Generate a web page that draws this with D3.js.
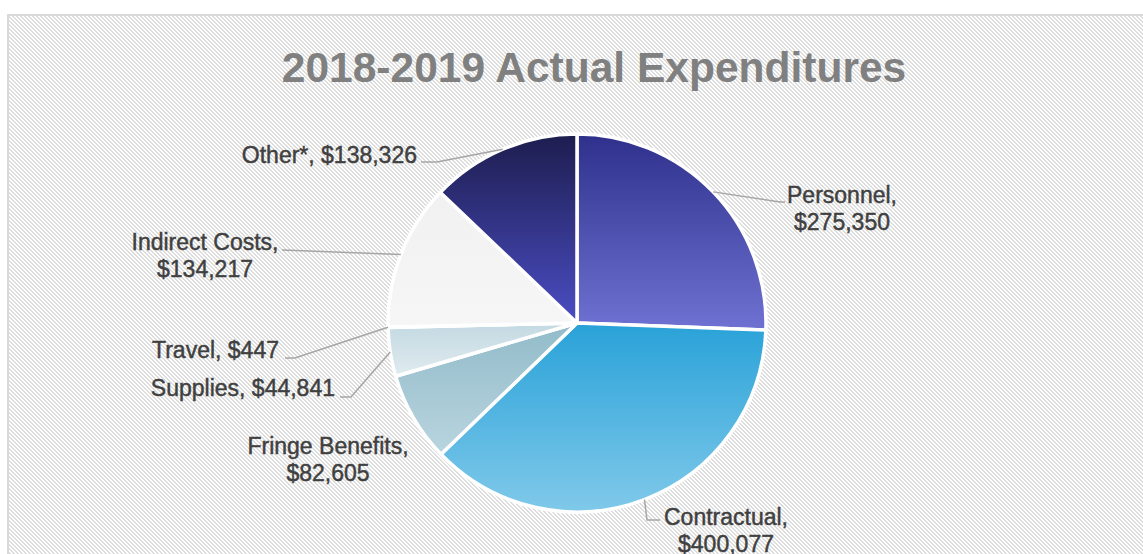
<!DOCTYPE html>
<html>
<head>
<meta charset="utf-8">
<script src="https://cdn.jsdelivr.net/npm/d3@7"></script>
<style>
  html, body { margin: 0; padding: 0; background: #fff; }
  svg { display: block; }
</style>
</head>
<body>
<svg id="chart" width="1143" height="554"></svg>
<script>
// ---- data ----
const title = "2018-2019 Actual Expenditures";
const categories = ["Personnel", "Contractual", "Fringe Benefits", "Supplies", "Travel", "Indirect Costs", "Other*"];
const values = [275350, 400077, 82605, 44841, 447, 134217, 138326];
const valueLabels = ["$275,350", "$400,077", "$82,605", "$44,841", "$447", "$134,217", "$138,326"];

// ---- styles / layout (kept separate from data) ----
const gradTop    = ["#2e308c", "#29a2d8", "#92bbc9", "#c3d9e2", "#c3d9e2", "#f1f1f1", "#1d1d4f"];
const gradBottom = ["#6f72d2", "#80c9ea", "#b9d5df", "#e0ebef", "#e0ebef", "#f6f6f6", "#4b4dc3"];
// label layout relative to pie centre: anchor, x, y (first line baseline), lines, leader elbow and end
const labelLayout = [
  { anchor: "middle", dx: 265, dy: -120, twoLine: true,  leader: [[203, -121], [208, -121]] },
  { anchor: "middle", dx: 149, dy: 202,  twoLine: true,  leader: [[70, 197], [83, 197]] },
  { anchor: "middle", dx: -249, dy: 131, twoLine: true,  leader: null },
  { anchor: "end",    dx: -242, dy: 73,  twoLine: false, leader: [[-226, 74], [-237, 74]] },
  { anchor: "end",    dx: -298, dy: 35,  twoLine: false, leader: [[-282, 35], [-292, 35]] },
  { anchor: "middle", dx: -372, dy: -73, twoLine: true,  leader: [[-295, -73], [-295, -73]] },
  { anchor: "end",    dx: -160, dy: -160, twoLine: false, leader: [[-140, -161], [-156, -161]] }
];

const W = 1143, H = 554;
const cx = 577, cy = 323, R = 189;

const svg = d3.select("#chart");
const defs = svg.append("defs");

// hatch background pattern (downward diagonal)
const pat = defs.append("pattern")
  .attr("id", "hatch").attr("patternUnits", "userSpaceOnUse")
  .attr("width", 4).attr("height", 4);
pat.append("rect").attr("width", 4).attr("height", 4).attr("fill", "#ffffff");
d3.range(4).forEach(r => {
  [r, (r + 1) % 4].forEach(c => {
    pat.append("rect").attr("x", c).attr("y", r).attr("width", 1).attr("height", 1).attr("fill", "#dddddd");
  });
});

// gradients per slice
categories.forEach((c, i) => {
  const g = defs.append("linearGradient").attr("id", "g" + i)
    .attr("x1", 0).attr("y1", 0).attr("x2", 0).attr("y2", 1);
  g.append("stop").attr("offset", "0%").attr("stop-color", gradTop[i]);
  g.append("stop").attr("offset", "100%").attr("stop-color", gradBottom[i]);
});

// chart area
svg.append("rect").attr("x", 0).attr("y", 0).attr("width", W).attr("height", H).attr("fill", "#fff");
svg.append("rect").attr("x", 8).attr("y", 15).attr("width", W + 20).attr("height", H + 20)
  .attr("fill", "url(#hatch)").attr("stroke", "#d9d9d9").attr("stroke-width", 2);

// title
svg.append("text").attr("x", 594).attr("y", 82)
  .attr("text-anchor", "middle")
  .attr("font-family", "'Liberation Sans', Arial, sans-serif")
  .attr("font-weight", "bold").attr("font-size", 42.5)
  .attr("fill", "#808080").text(title);

// pie
const pie = d3.pie().sort(null).value(d => d)(values);
const arc = d3.arc().innerRadius(0).outerRadius(R);
const g = svg.append("g").attr("transform", `translate(${cx},${cy})`);

g.selectAll("path.slice").data(pie).join("path")
  .attr("class", "slice")
  .attr("d", arc)
  .attr("fill", (d, i) => `url(#g${i})`)
  .attr("stroke", "#fff").attr("stroke-width", 3.5).attr("stroke-linejoin", "round");

// leader lines
const lineGen = d3.line();
pie.forEach((d, i) => {
  const L = labelLayout[i];
  if (!L.leader) return;
  const mid = (d.startAngle + d.endAngle) / 2;
  const p0 = [R * Math.sin(mid), -R * Math.cos(mid)];
  g.append("path")
    .attr("d", lineGen([p0, L.leader[0], L.leader[1]]))
    .attr("fill", "none").attr("stroke", "#a6a6a6").attr("stroke-width", 1.5);
});

// labels
pie.forEach((d, i) => {
  const L = labelLayout[i];
  const t = g.append("text")
    .attr("text-anchor", L.anchor)
    .attr("font-family", "'Liberation Sans', Arial, sans-serif")
    .attr("font-size", 23).attr("fill", "#404040")
    .attr("stroke", "#404040").attr("stroke-width", 0.45);
  if (L.twoLine) {
    t.append("tspan").attr("x", L.dx).attr("y", L.dy).text(categories[i] + ",");
    t.append("tspan").attr("x", L.dx).attr("y", L.dy + 27).text(valueLabels[i]);
  } else {
    t.append("tspan").attr("x", L.dx).attr("y", L.dy).text(categories[i] + ", " + valueLabels[i]);
  }
});
</script>
</body>
</html>
